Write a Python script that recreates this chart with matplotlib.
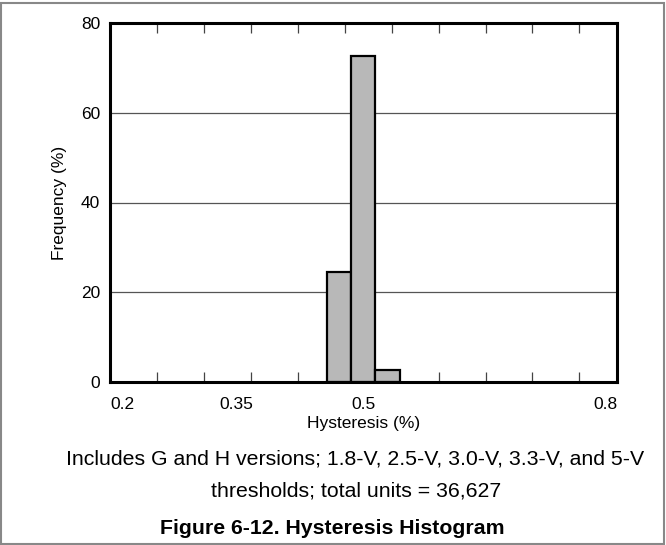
import numpy as np
import matplotlib
matplotlib.use("Agg")
import matplotlib.pyplot as plt
from matplotlib.patches import Rectangle

plt.rcParams["font.family"] = ["Liberation Sans", "DejaVu Sans"]

# histogram data
bin_edges = [0.4565, 0.485, 0.514, 0.543]
freq = [24.5, 72.7, 2.7]
x_ticks = [0.2, 0.35, 0.5, 0.8]
x_ticklabels = ["0.2", "0.35", "0.5", "0.8"]
y_ticks = [0, 20, 40, 60, 80]
minor_step = 0.6 / 10.8

fig = plt.figure(figsize=(6.66, 5.45), dpi=100)
ax = fig.add_axes([110 / 666, 1 - 382 / 545, 507 / 666, 359 / 545])

ax.bar(bin_edges[:-1], freq, width=np.diff(bin_edges), align="edge",
       color="#b8b8b8", edgecolor="black", linewidth=1.6, zorder=3)

ax.set_xlim(0.2, 0.8)
ax.set_ylim(0, 80)
ax.set_yticks(y_ticks)
ax.yaxis.grid(True, color="#555555", lw=0.9, zorder=1)
ax.set_xticks(x_ticks)
ax.set_xticklabels(x_ticklabels)
labs = ax.get_xticklabels()
labs[0].set_ha("left")
labs[-1].set_ha("right")
ax.set_xticks([0.2 + k * minor_step for k in range(1, 11)], minor=True)
ax.tick_params(axis="x", which="major", length=0, pad=11, labelsize=12.5)
ax.tick_params(axis="x", which="minor", direction="in", length=7, width=0.9,
               top=True, bottom=True, color="#444444")
ax.tick_params(axis="y", length=0, pad=7, labelsize=12.5)
for s in ax.spines.values():
    s.set_linewidth(2.2)
    s.set_zorder(4)

ax.set_xlabel("Hysteresis (%)", fontsize=12.5, labelpad=3)
ax.set_ylabel("Frequency (%)", fontsize=12.5, labelpad=10)

fig.text(355 / 666, 1 - 459 / 545,
         "Includes G and H versions; 1.8-V, 2.5-V, 3.0-V, 3.3-V, and 5-V",
         ha="center", va="center", fontsize=15.3)
fig.text(356 / 666, 1 - 491 / 545, "thresholds; total units = 36,627",
         ha="center", va="center", fontsize=15.3)
fig.text(332 / 666, 1 - 529 / 545, "Figure 6-12. Hysteresis Histogram",
         ha="center", va="center", fontsize=15.3, fontweight="bold")

fig.patches.append(Rectangle((1 / 666, 1 / 545), 663 / 666, 541 / 545,
                             transform=fig.transFigure, fill=False,
                             edgecolor="#888888", lw=1.5))

fig.savefig("out.png", dpi=100)
